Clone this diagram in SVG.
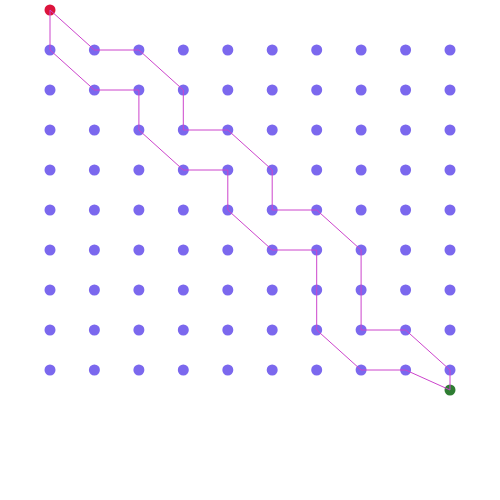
<svg xmlns="http://www.w3.org/2000/svg" width="500" height="500" viewBox="0 0 500 500">
<defs>
<style>
.d{fill:#7b68ee}
.s{fill:#dc143c}
.e{fill:#2e7d32}
.c{fill:none;stroke:#cc44cc;stroke-width:1}
</style>
<circle id="dot" r="5.5" class="d"/>
</defs>
<rect width="500" height="500" fill="#fff"/>
<g id="grid">
<g id="row1"><use href="#dot" x="50" y="50"/><use href="#dot" x="94.4" y="50"/><use href="#dot" x="138.9" y="50"/><use href="#dot" x="183.3" y="50"/><use href="#dot" x="227.8" y="50"/><use href="#dot" x="272.2" y="50"/><use href="#dot" x="316.7" y="50"/><use href="#dot" x="361.1" y="50"/><use href="#dot" x="405.6" y="50"/><use href="#dot" x="450" y="50"/></g>
<g id="row2"><use href="#dot" x="50" y="90"/><use href="#dot" x="94.4" y="90"/><use href="#dot" x="138.9" y="90"/><use href="#dot" x="183.3" y="90"/><use href="#dot" x="227.8" y="90"/><use href="#dot" x="272.2" y="90"/><use href="#dot" x="316.7" y="90"/><use href="#dot" x="361.1" y="90"/><use href="#dot" x="405.6" y="90"/><use href="#dot" x="450" y="90"/></g>
<g id="row3"><use href="#dot" x="50" y="130"/><use href="#dot" x="94.4" y="130"/><use href="#dot" x="138.9" y="130"/><use href="#dot" x="183.3" y="130"/><use href="#dot" x="227.8" y="130"/><use href="#dot" x="272.2" y="130"/><use href="#dot" x="316.7" y="130"/><use href="#dot" x="361.1" y="130"/><use href="#dot" x="405.6" y="130"/><use href="#dot" x="450" y="130"/></g>
<g id="row4"><use href="#dot" x="50" y="170"/><use href="#dot" x="94.4" y="170"/><use href="#dot" x="138.9" y="170"/><use href="#dot" x="183.3" y="170"/><use href="#dot" x="227.8" y="170"/><use href="#dot" x="272.2" y="170"/><use href="#dot" x="316.7" y="170"/><use href="#dot" x="361.1" y="170"/><use href="#dot" x="405.6" y="170"/><use href="#dot" x="450" y="170"/></g>
<g id="row5"><use href="#dot" x="50" y="210"/><use href="#dot" x="94.4" y="210"/><use href="#dot" x="138.9" y="210"/><use href="#dot" x="183.3" y="210"/><use href="#dot" x="227.8" y="210"/><use href="#dot" x="272.2" y="210"/><use href="#dot" x="316.7" y="210"/><use href="#dot" x="361.1" y="210"/><use href="#dot" x="405.6" y="210"/><use href="#dot" x="450" y="210"/></g>
<g id="row6"><use href="#dot" x="50" y="250"/><use href="#dot" x="94.4" y="250"/><use href="#dot" x="138.9" y="250"/><use href="#dot" x="183.3" y="250"/><use href="#dot" x="227.8" y="250"/><use href="#dot" x="272.2" y="250"/><use href="#dot" x="316.7" y="250"/><use href="#dot" x="361.1" y="250"/><use href="#dot" x="405.6" y="250"/><use href="#dot" x="450" y="250"/></g>
<g id="row7"><use href="#dot" x="50" y="290"/><use href="#dot" x="94.4" y="290"/><use href="#dot" x="138.9" y="290"/><use href="#dot" x="183.3" y="290"/><use href="#dot" x="227.8" y="290"/><use href="#dot" x="272.2" y="290"/><use href="#dot" x="316.7" y="290"/><use href="#dot" x="361.1" y="290"/><use href="#dot" x="405.6" y="290"/><use href="#dot" x="450" y="290"/></g>
<g id="row8"><use href="#dot" x="50" y="330"/><use href="#dot" x="94.4" y="330"/><use href="#dot" x="138.9" y="330"/><use href="#dot" x="183.3" y="330"/><use href="#dot" x="227.8" y="330"/><use href="#dot" x="272.2" y="330"/><use href="#dot" x="316.7" y="330"/><use href="#dot" x="361.1" y="330"/><use href="#dot" x="405.6" y="330"/><use href="#dot" x="450" y="330"/></g>
<g id="row9"><use href="#dot" x="50" y="370"/><use href="#dot" x="94.4" y="370"/><use href="#dot" x="138.9" y="370"/><use href="#dot" x="183.3" y="370"/><use href="#dot" x="227.8" y="370"/><use href="#dot" x="272.2" y="370"/><use href="#dot" x="316.7" y="370"/><use href="#dot" x="361.1" y="370"/><use href="#dot" x="405.6" y="370"/><use href="#dot" x="450" y="370"/></g>
</g>
<g id="start"><circle cx="50" cy="10" r="5.5" class="s"/></g>
<g id="end"><circle cx="450" cy="390" r="5.5" class="e"/></g>
<g id="connectors">
<polyline class="c" points="50,10 94.4,50 138.9,50 183.3,90 183.3,130 227.8,130 272.2,170 272.2,210 316.7,210 361.1,250 361.1,330 405.6,330 450,370 450,390"/>
<polyline class="c" points="50,10 50,50 94.4,90 138.9,90 138.9,130 183.3,170 227.8,170 227.8,210 272.2,250 316.7,250 316.7,330 361.1,370 405.6,370 450,390"/>
</g>
</svg>
